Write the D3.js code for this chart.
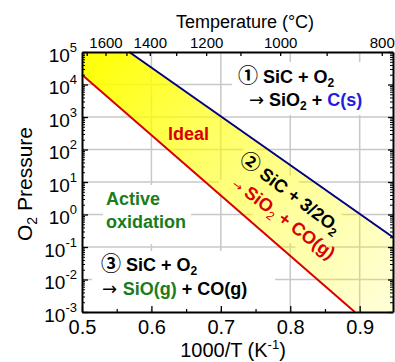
<!DOCTYPE html>
<html><head><meta charset="utf-8">
<script src="https://cdn.jsdelivr.net/npm/d3@7"></script>
<style>body{margin:0;background:#fff}svg{display:block}</style>
</head><body>
<svg id="c" width="395" height="362"></svg>
<script>
// ---- data ----
const idealX = [0.5, 0.893];      // 1000/T (K^-1), red "Ideal" line
const idealP = [2e4, 1e-3];       // O2 pressure
const upperX = [0.568, 0.948];    // blue line
const upperP = [1e5, 0.2];
const xTicks = [0.5, 0.6, 0.7, 0.8, 0.9];
const xMinor = [0.55, 0.65, 0.75, 0.85];
const yExp = [-3, -2, -1, 0, 1, 2, 3, 4, 5];
const tempLabels = [1600, 1400, 1200, 1000, 800];
const tempTicks = [1700, 1600, 1500, 1400, 1300, 1200, 1100, 1000, 900, 800];

// ---- layout ----
const L = 82, R = 393, T = 52, B = 312;
const FONT = "'Liberation Sans', Arial, Helvetica, sans-serif";
const CIRC = "'Noto Sans CJK JP', 'DejaVu Sans', sans-serif";
const ARROW = "'DejaVu Sans', sans-serif";
const RED = "#d80000", BLUE = "#000080", GREEN = "#1a7d1a", CBLUE = "#1e1edc";

const x = d3.scaleLinear().domain([0.5, 0.948]).range([L, R]);
const y = d3.scaleLog().domain([1e-3, 1e5]).range([B, T]);
const svg = d3.select('#c').attr('font-family', FONT);

const defs = svg.append('defs');
const grad = defs.append('linearGradient').attr('id', 'band')
  .attr('gradientUnits', 'userSpaceOnUse')
  .attr('x1', 100).attr('y1', 60).attr('x2', 390).attr('y2', 300);
[[0, 0.95], [0.32, 0.64], [0.65, 0.38], [1, 0.16]].forEach(([o, a]) =>
  grad.append('stop').attr('offset', o).attr('stop-color', '#ffff00').attr('stop-opacity', a));

// ---- grid ----
const grid = svg.append('g').attr('stroke', '#c8c8c8').attr('stroke-width', 1.5);
xTicks.filter(v => v > 0.5).forEach(v =>
  grid.append('line').attr('x1', x(v)).attr('x2', x(v)).attr('y1', T).attr('y2', B));
yExp.filter(e => e > -3 && e < 5).forEach(e =>
  grid.append('line').attr('x1', L).attr('x2', R).attr('y1', y(10 ** e)).attr('y2', y(10 ** e)));

// ---- white label boxes (hide grid) ----
const boxes = svg.append('g').attr('fill', '#fff');
boxes.append('rect').attr('x', 232).attr('y', 62).attr('width', R - 232 - 1).attr('height', 53);
boxes.append('rect').attr('x', 103).attr('y', 185).attr('width', 88).attr('height', 59);
boxes.append('rect').attr('x', 92).attr('y', 251).attr('width', 183).attr('height', 58);
boxes.append('rect').attr('transform', 'translate(239,162) rotate(37)')
  .attr('x', -4).attr('y', -20).attr('width', 126).attr('height', 54);

// ---- band ----
const [x0, x1] = x.domain(), [y0, y1] = y.domain();
const bandPts = [
  [idealX[0], idealP[0]], [idealX[1], idealP[1]], [x1, y0],
  [upperX[1], upperP[1]], [upperX[0], upperP[0]], [x0, y1]
];
svg.append('path')
  .attr('d', d3.line().x(d => x(d[0])).y(d => y(d[1]))(bandPts) + 'Z')
  .attr('fill', 'url(#band)');

// ---- lines ----
const ln = d3.line().x(d => x(d[0])).y(d => y(d[1]));
svg.append('path').attr('d', ln(idealX.map((v, i) => [v, idealP[i]])))
  .attr('fill', 'none').attr('stroke', RED).attr('stroke-width', 2);
svg.append('path').attr('d', ln(upperX.map((v, i) => [v, upperP[i]])))
  .attr('fill', 'none').attr('stroke', BLUE).attr('stroke-width', 2);

// ---- axes ----
function styleAxis(g, fs) {
  g.attr('font-family', FONT).attr('font-size', fs);
  g.select('.domain').attr('stroke', '#000').attr('stroke-width', 2);
  g.selectAll('.tick line').attr('stroke', '#000').attr('stroke-width', 1.3);
  g.selectAll('.tick text').attr('fill', '#000');
}
const minorY = [];
for (let e = -3; e < 5; e++) for (let m = 2; m <= 9; m++) minorY.push(m * 10 ** e);

// bottom
const gb = svg.append('g').attr('transform', `translate(0,${B})`)
  .call(d3.axisBottom(x).tickValues(xTicks).tickSizeInner(-6).tickSizeOuter(0)
    .tickPadding(8).tickFormat(d3.format('.1f')));
styleAxis(gb, 20);
svg.append('g').attr('transform', `translate(0,${B})`)
  .call(d3.axisBottom(x).tickValues(xMinor).tickSizeInner(-3).tickSizeOuter(0).tickFormat(''))
  .call(g => { g.select('.domain').remove(); g.selectAll('line').attr('stroke', '#000').attr('stroke-width', 1.2); });

// top (temperature)
const toX = c => 1000 / (c + 273.15);
const gt = svg.append('g').attr('transform', `translate(0,${T})`)
  .call(d3.axisTop(x).tickValues(tempTicks.map(toX)).tickSizeInner(-4).tickSizeOuter(0)
    .tickPadding(4).tickFormat((d, i) => tempLabels.includes(tempTicks[i]) ? tempTicks[i] : ''));
styleAxis(gt, 15);

// left
const gl = svg.append('g').attr('transform', `translate(${L},0)`)
  .call(d3.axisLeft(y).tickValues(yExp.map(e => 10 ** e)).tickSizeInner(-6).tickSizeOuter(0)
    .tickPadding(5).tickFormat(() => '10'));
styleAxis(gl, 19);
gl.selectAll('.tick text').attr('dy', '0.48em').each(function (d, i) {
  d3.select(this).append('tspan').attr('dy', -10).attr('font-size', 13).text(String(yExp[i]));
});
svg.append('g').attr('transform', `translate(${L},0)`)
  .call(d3.axisLeft(y).tickValues(minorY).tickSizeInner(-3).tickSizeOuter(0).tickFormat(''))
  .call(g => { g.select('.domain').remove(); g.selectAll('line').attr('stroke', '#000').attr('stroke-width', 1); });

// right
const gr = svg.append('g').attr('transform', `translate(${R},0)`)
  .call(d3.axisRight(y).tickValues(yExp.map(e => 10 ** e)).tickSizeInner(-5).tickSizeOuter(0).tickFormat(''));
styleAxis(gr, 10);
svg.append('g').attr('transform', `translate(${R},0)`)
  .call(d3.axisRight(y).tickValues(minorY).tickSizeInner(-3).tickSizeOuter(0).tickFormat(''))
  .call(g => { g.select('.domain').remove(); g.selectAll('line').attr('stroke', '#000').attr('stroke-width', 1); });

// ---- axis titles ----
svg.append('text').attr('x', 245).attr('y', 28).attr('text-anchor', 'middle')
  .attr('font-size', 18).text('Temperature (°C)');
const bt = svg.append('text').attr('x', 233).attr('y', 357).attr('text-anchor', 'middle').attr('font-size', 20);
bt.append('tspan').text('1000/T (K');
bt.append('tspan').attr('dy', -8).attr('font-size', 13).text('-1');
bt.append('tspan').attr('dy', 8).text(')');
const yt = svg.append('text').attr('transform', 'translate(32,184) rotate(-90)')
  .attr('text-anchor', 'middle').attr('font-size', 21);
yt.append('tspan').text('O');
yt.append('tspan').attr('dy', 5).attr('font-size', 14).text('2');
yt.append('tspan').attr('dy', -5).text(' Pressure');

// ---- annotations ----
function rich(parent, xx, yy, segs, attrs = {}) {
  const t = parent.append('text').attr('x', xx).attr('y', yy)
    .attr('font-size', 18).attr('font-weight', 'bold');
  Object.entries(attrs).forEach(([k, v]) => t.attr(k, v));
  let shift = 0;
  segs.forEach(s => {
    const sp = t.append('tspan').text(s.t);
    if (s.fill) sp.attr('fill', s.fill);
    if (s.font) sp.attr('font-family', s.font);
    if (s.w) sp.attr('font-weight', s.w);
    if (s.size) sp.attr('font-size', s.size);
    const want = s.sub ? 4 : 0;
    if (want !== shift) { sp.attr('dy', want - shift); shift = want; }
  });
  return t;
}
const ann = svg.append('g');
const circ = { font: CIRC, size: 20 };
rich(ann, 238, 83, [
  { t: '①', ...circ }, { t: ' SiC + O' }, { t: '2', sub: 1, size: 12 }]);
rich(ann, 249, 106, [
  { t: '→', w: 'normal', font: ARROW }, { t: ' SiO' }, { t: '2', sub: 1, size: 12 }, { t: ' + ' },
  { t: 'C(s)', fill: CBLUE }]);
rich(ann, 168, 140, [{ t: 'Ideal', fill: RED }]);
rich(ann, 106, 205, [{ t: 'Active', fill: GREEN }]);
rich(ann, 106, 228, [{ t: 'oxidation', fill: GREEN }]);
rich(ann, 101, 271, [
  { t: '③', ...circ }, { t: ' SiC + O' }, { t: '2', sub: 1, size: 12 }]);
rich(ann, 102, 295, [
  { t: '→ ', w: 'normal', font: ARROW }, { t: 'SiO(g)', fill: GREEN }, { t: ' + CO(g)' }]);
const rot = ann.append('g').attr('transform', 'translate(239,162) rotate(37)');
rich(rot, -1, 0, [
  { t: '②', ...circ }, { t: ' SiC + 3/2O' }, { t: '2', sub: 1, size: 12 }]);
rich(rot, 8, 24, [
  { t: '→', w: 'normal', size: 12, fill: RED, font: ARROW }, { t: ' SiO', fill: RED },
  { t: '2', sub: 1, size: 12, fill: RED, w: 'normal' }, { t: ' + CO(g)', fill: RED }]);
</script>
</body></html>
